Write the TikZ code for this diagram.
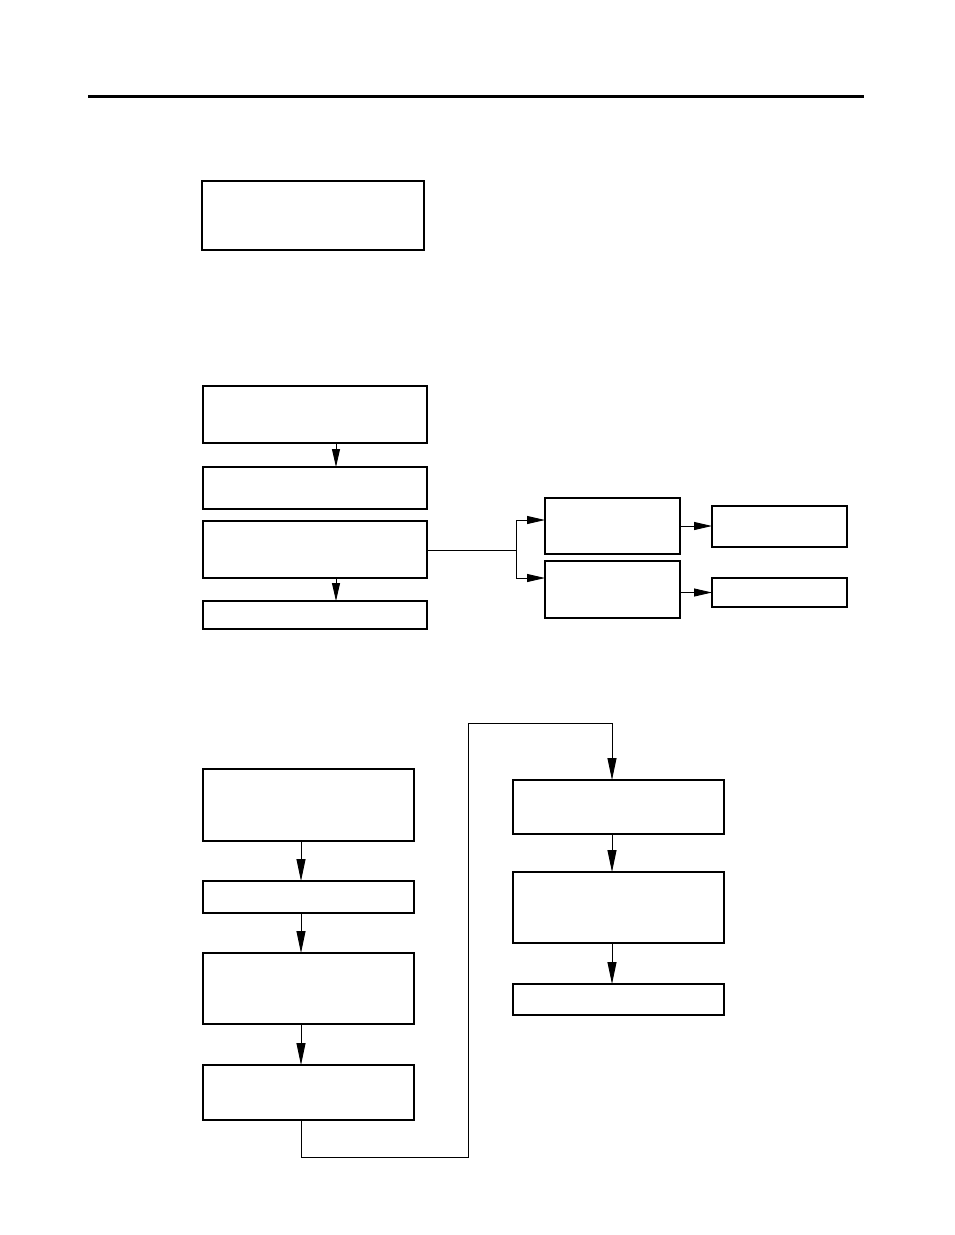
\documentclass[tikz,border=0pt]{standalone}
\usepackage{tikz}
\usetikzlibrary{arrows.meta}
\begin{document}
\begin{tikzpicture}[x=1pt, y=-1pt,
  box/.style={draw, line width=1.6pt, anchor=north west, inner sep=0pt, outer sep=0pt},
  arr/.style={-{Triangle[length=18pt, width=8pt]}, line width=0.9pt},
  arrlong/.style={-{Triangle[length=22pt, width=9pt]}, line width=0.9pt}]
  \useasboundingbox (0,0) rectangle (954,1235);
  \coordinate (rulel) at (88,96);
  \coordinate (ruler) at (864,96);
  \draw[line width=3pt] (rulel) -- (ruler);

  \node[box, minimum width=222pt, minimum height=69pt] (a) at (202,181) {};

  \node[box, minimum width=224pt, minimum height=57pt] (b1) at (203,386) {};
  \node[box, minimum width=224pt, minimum height=42pt] (b2) at (203,467) {};
  \node[box, minimum width=224pt, minimum height=57pt] (b3) at (203,521) {};
  \node[box, minimum width=224pt, minimum height=28pt] (b4) at (203,601) {};
  \node[box, minimum width=135pt, minimum height=56pt] (c1) at (545,498) {};
  \node[box, minimum width=135pt, minimum height=57pt] (c2) at (545,561) {};
  \node[box, minimum width=135pt, minimum height=41pt] (d1) at (712,506) {};
  \node[box, minimum width=135pt, minimum height=29pt] (d2) at (712,578) {};

  \coordinate (colB) at (336,0);
  \coordinate (fork) at (516,550);
  \coordinate (up) at (0,520);
  \coordinate (dn) at (0,578);
  \draw[arr] (colB |- b1.south) -- (colB |- b2.north);
  \draw[arr] (colB |- b3.south) -- (colB |- b4.north);
  \draw[line width=0.9pt] (b3.east |- fork) -- (fork);
  \draw[arr] (fork) |- (c1.west |- up);
  \draw[arr] (fork) |- (c2.west |- dn);
  \draw[arr] (c1.east) -- (c1.east -| d1.west);
  \draw[arr] (c2.east |- d2.west) -- (d2.west);

  \node[box, minimum width=211pt, minimum height=72pt] (e1) at (203,769) {};
  \node[box, minimum width=211pt, minimum height=32pt] (e2) at (203,881) {};
  \node[box, minimum width=211pt, minimum height=71pt] (e3) at (203,953) {};
  \node[box, minimum width=211pt, minimum height=55pt] (e4) at (203,1065) {};
  \node[box, minimum width=211pt, minimum height=54pt] (f1) at (513,780) {};
  \node[box, minimum width=211pt, minimum height=71pt] (f2) at (513,872) {};
  \node[box, minimum width=211pt, minimum height=31pt] (f3) at (513,984) {};

  \coordinate (colE) at (301,0);
  \coordinate (colF) at (612,0);
  \coordinate (low) at (468,1157);
  \coordinate (high) at (468,723);
  \draw[arrlong] (colE |- e1.south) -- (colE |- e2.north);
  \draw[arrlong] (colE |- e2.south) -- (colE |- e3.north);
  \draw[arrlong] (colE |- e3.south) -- (colE |- e4.north);
  \draw[arrlong] (colE |- e4.south) |- (low) -- (high) -| (colF |- f1.north);
  \draw[arrlong] (colF |- f1.south) -- (colF |- f2.north);
  \draw[arrlong] (colF |- f2.south) -- (colF |- f3.north);
\end{tikzpicture}
\end{document}
